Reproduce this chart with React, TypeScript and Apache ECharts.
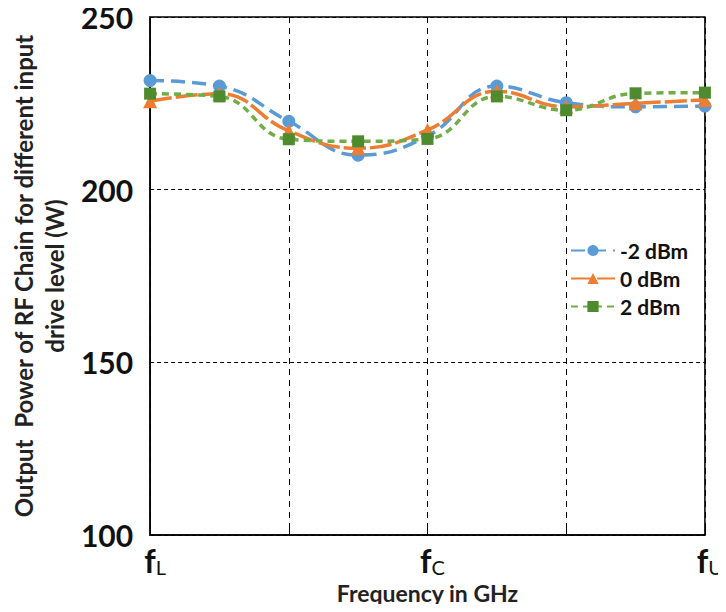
import React, { useEffect, useRef } from "react";
import * as echarts from "echarts";

const xPositions = [0, 1, 2, 3, 4, 5, 6, 7, 8];
const xTickLabels: Record<number, string> = { 0: "L", 4: "C", 8: "U" };
const seriesNames = ["-2 dBm", "0 dBm", "2 dBm"];
const valuesM2 = [231.6, 230, 219.8, 210, 215.5, 230, 225.2, 224, 224.2];
const values0 = [225.6, 227.8, 217, 212, 217.3, 228.5, 224, 225, 226];
const values2 = [227.8, 227, 214.6, 214, 214.7, 227, 223, 227.9, 228.1];

const FONT = "Lato, 'Open Sans', sans-serif";

export default function App() {
  const ref = useRef<HTMLDivElement>(null);
  useEffect(() => {
    if (!ref.current) return;
    const chart = echarts.init(ref.current, undefined, { renderer: "svg" });
    const mk = (arr: number[]) => arr.map((v, i) => [xPositions[i], v]);
    chart.setOption({
      animation: false,
      textStyle: { fontFamily: FONT },
      grid: {
        left: 147,
        right: 18,
        top: 17,
        bottom: 77,
        show: true,
        borderColor: "#000",
        borderWidth: 1.5,
      },
      legend: {
        orient: "vertical",
        left: 565,
        top: 235,
        itemWidth: 44,
        itemHeight: 14,
        itemGap: 7,
        textStyle: { fontFamily: FONT, fontSize: 21, fontWeight: "bold", color: "#111" },
        data: seriesNames,
      },
      xAxis: {
        type: "value",
        min: 0,
        max: 8,
        interval: 2,
        axisLine: { show: true, lineStyle: { color: "#000", width: 1.5 } },
        axisTick: { show: true, inside: true, length: 6, lineStyle: { color: "#000" } },
        splitLine: { show: true, lineStyle: { color: "#000", type: [6, 5], width: 1 } },
        axisLabel: {
          margin: 8,
          formatter: (v: number) => (xTickLabels[v] ? `{f|f}{s|${xTickLabels[v]}}` : ""),
          rich: {
            f: { fontFamily: FONT, fontSize: 32, fontWeight: "bold", color: "#111", padding: [0, 0, 0, 10] },
            s: { fontFamily: FONT, fontSize: 20, fontWeight: "normal", color: "#111", padding: [14, 0, 0, 0] },
          },
        },
        name: "Frequency in GHz",
        nameLocation: "middle",
        nameGap: 46,
        nameTextStyle: { fontFamily: FONT, fontSize: 23, fontWeight: "bold", color: "#222" },
      },
      yAxis: {
        type: "value",
        min: 100,
        max: 250,
        interval: 50,
        axisLine: { show: true, lineStyle: { color: "#000", width: 1.5 } },
        axisTick: { show: false },
        splitLine: { show: true, lineStyle: { color: "#000", type: [4, 3], width: 1 } },
        axisLabel: {
          margin: 17,
          fontFamily: FONT,
          fontSize: 30,
          fontWeight: "bold",
          color: "#111",
        },
        name: "Output  Power of RF Chain for different input\ndrive level (W)",
        nameLocation: "middle",
        nameGap: 74,
        nameRotate: 90,
        nameTextStyle: {
          fontFamily: FONT,
          fontSize: 24,
          fontWeight: "bold",
          color: "#222",
          lineHeight: 31,
        },
      },
      series: [
        {
          name: seriesNames[0],
          type: "line",
          smooth: 0.45,
          data: mk(valuesM2),
          symbol: "circle",
          symbolSize: 13,
          itemStyle: { color: "#5B9BD5" },
          lineStyle: { color: "#5B9BD5", width: 3.5, type: [14, 7] },
          z: 3,
        },
        {
          name: seriesNames[1],
          type: "line",
          smooth: 0.45,
          data: mk(values0),
          symbol: "triangle",
          symbolSize: 14,
          itemStyle: { color: "#ED7D31" },
          lineStyle: { color: "#ED7D31", width: 3.5, type: [22, 4] },
          z: 4,
        },
        {
          name: seriesNames[2],
          type: "line",
          smooth: 0.45,
          data: mk(values2),
          symbol: "rect",
          symbolSize: 12,
          itemStyle: { color: "#4E8A2E" },
          lineStyle: { color: "#70AD47", width: 3.5, type: [7, 5] },
          z: 5,
        },
      ],
    });
    return () => chart.dispose();
  }, []);
  return <div ref={ref} style={{ width: 726, height: 612, margin: -8 }} />;
}
